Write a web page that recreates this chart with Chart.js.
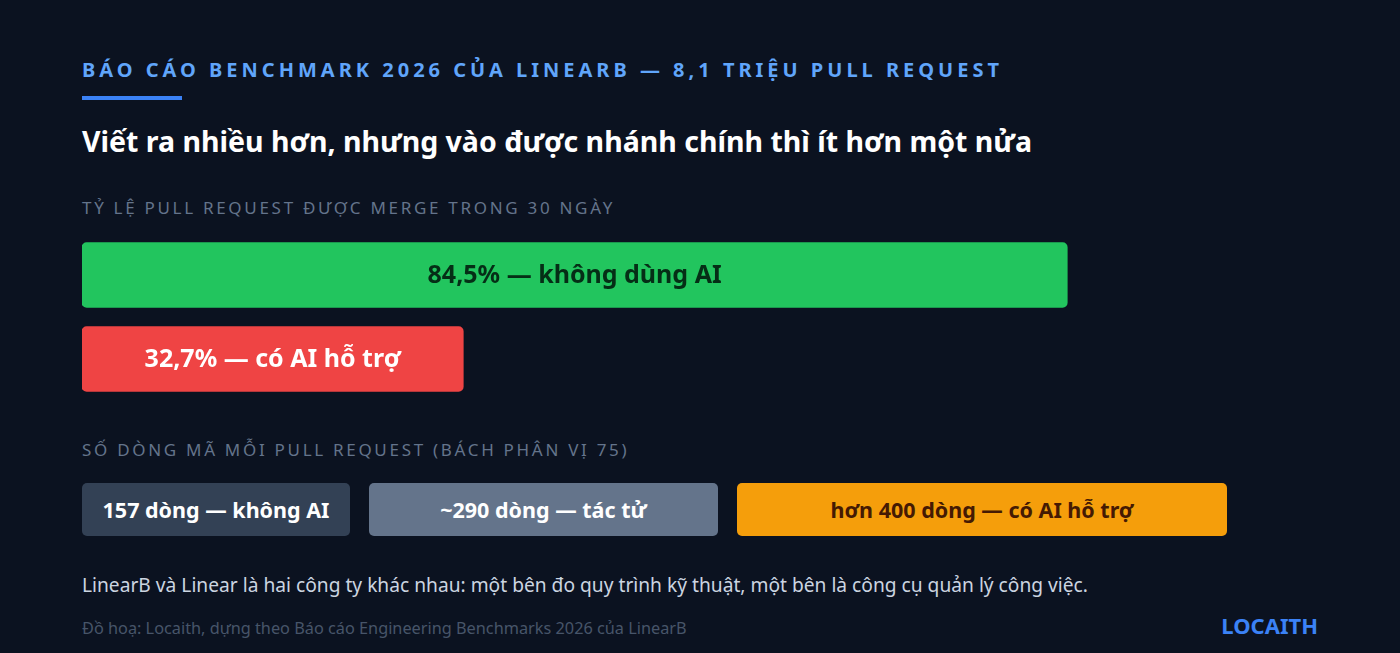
<!DOCTYPE html>
<html lang="vi">
<head>
<meta charset="UTF-8">
<title>LinearB Benchmark 2026</title>
<script src="https://cdn.jsdelivr.net/npm/chart.js"></script>
<style>
body {
    margin: 0;
    width: 1400px;
    height: 653px;
    background: #0b1220;
    font-family: 'Noto Sans', sans-serif;
    position: relative;
    overflow: hidden;
}
.abs { position: absolute; white-space: nowrap; }
#kicker {
    left: 82px; top: 56px;
    font-size: 20px; font-weight: 700;
    letter-spacing: 4px;
    color: #60a5fa;
}
#rule {
    left: 82px; top: 96px; width: 100px; height: 4px;
    background: #3b82f6;
}
#title {
    left: 82px; top: 122px;
    font-size: 28.5px; font-weight: 700;
    color: #ffffff;
}
.section {
    left: 82px;
    font-size: 17px;
    letter-spacing: 2.7px;
    color: #64748b;
}
#chartWrap {
    left: 82px; top: 233px; width: 1166px; height: 168px;
}
.box {
    top: 483px; height: 53px;
    border-radius: 5px;
    display: flex; align-items: center; justify-content: center;
    font-size: 21.5px; font-weight: 700;
}
#note {
    left: 82px; top: 571px;
    font-size: 19.2px; color: #cbd5e1;
}
#source {
    left: 82px; top: 617px;
    font-size: 16.3px; color: #475569;
}
#brand {
    right: 82px; top: 610px;
    font-size: 22px; font-weight: 700; color: #3b82f6;
}
</style>
</head>
<body>
<div class="abs" id="kicker">BÁO CÁO BENCHMARK 2026 CỦA LINEARB — 8,1 TRIỆU PULL REQUEST</div>
<div class="abs" id="rule"></div>
<div class="abs" id="title">Viết ra nhiều hơn, nhưng vào được nhánh chính thì ít hơn một nửa</div>
<div class="abs section" style="top:196px">TỶ LỆ PULL REQUEST ĐƯỢC MERGE TRONG 30 NGÀY</div>
<div class="abs" id="chartWrap"><canvas id="mergeChart"></canvas></div>
<div class="abs section" style="top:438px">SỐ DÒNG MÃ MỖI PULL REQUEST (BÁCH PHÂN VỊ 75)</div>
<div id="boxes"></div>
<div class="abs" id="note">LinearB và Linear là hai công ty khác nhau: một bên đo quy trình kỹ thuật, một bên là công cụ quản lý công việc.</div>
<div class="abs" id="source">Đồ hoạ: Locaith, dựng theo Báo cáo Engineering Benchmarks 2026 của LinearB</div>
<div class="abs" id="brand">LOCAITH</div>
<script>
// merge rate within 30 days (%)
const mergeLabels = ['84,5% — không dùng AI', '32,7% — có AI hỗ trợ'];
const mergeValues = [84.5, 32.7];
const mergeColors = ['#22c55e', '#ef4444'];
const mergeTextColors = ['#052e16', '#ffffff'];

// lines of code per PR (p75)
const sizeLabels = ['157 dòng — không AI', '~290 dòng — tác tử', 'hơn 400 dòng — có AI hỗ trợ'];
const sizeValues = [157, 290, 400];
const sizeColors = ['#334155', '#64748b', '#f59e0b'];
const sizeTextColors = ['#ffffff', '#ffffff', '#451a03'];

// label boxes for the second row (not to scale in the original)
const boxLefts = [82, 369, 737];
const boxWidths = [268, 349, 490];
const boxesEl = document.getElementById('boxes');
sizeLabels.forEach((txt, i) => {
    const d = document.createElement('div');
    d.className = 'abs box';
    d.style.left = boxLefts[i] + 'px';
    d.style.width = boxWidths[i] + 'px';
    d.style.background = sizeColors[i];
    d.style.color = sizeTextColors[i];
    d.textContent = txt;
    boxesEl.appendChild(d);
});

// draws the label centred inside each bar
const insideLabels = {
    id: 'insideLabels',
    afterDatasetsDraw(chart) {
        const ctx = chart.ctx;
        const meta = chart.getDatasetMeta(0);
        ctx.save();
        ctx.font = '700 25px "Noto Sans", sans-serif';
        ctx.textAlign = 'center';
        ctx.textBaseline = 'middle';
        meta.data.forEach((bar, i) => {
            ctx.fillStyle = mergeTextColors[i];
            ctx.fillText(mergeLabels[i], (bar.base + bar.x) / 2, bar.y + 1);
        });
        ctx.restore();
    }
};

new Chart(document.getElementById('mergeChart'), {
    type: 'bar',
    data: {
        labels: mergeLabels,
        datasets: [{
            data: mergeValues,
            backgroundColor: mergeColors,
            borderRadius: 5,
            borderSkipped: false,
            barThickness: 65
        }]
    },
    options: {
        indexAxis: 'y',
        responsive: true,
        maintainAspectRatio: false,
        animation: false,
        layout: { padding: 0 },
        plugins: { legend: { display: false }, tooltip: { enabled: false } },
        scales: {
            x: { min: 0, max: 100, display: false },
            y: { display: false }
        }
    },
    plugins: [insideLabels]
});
</script>
</body>
</html>
